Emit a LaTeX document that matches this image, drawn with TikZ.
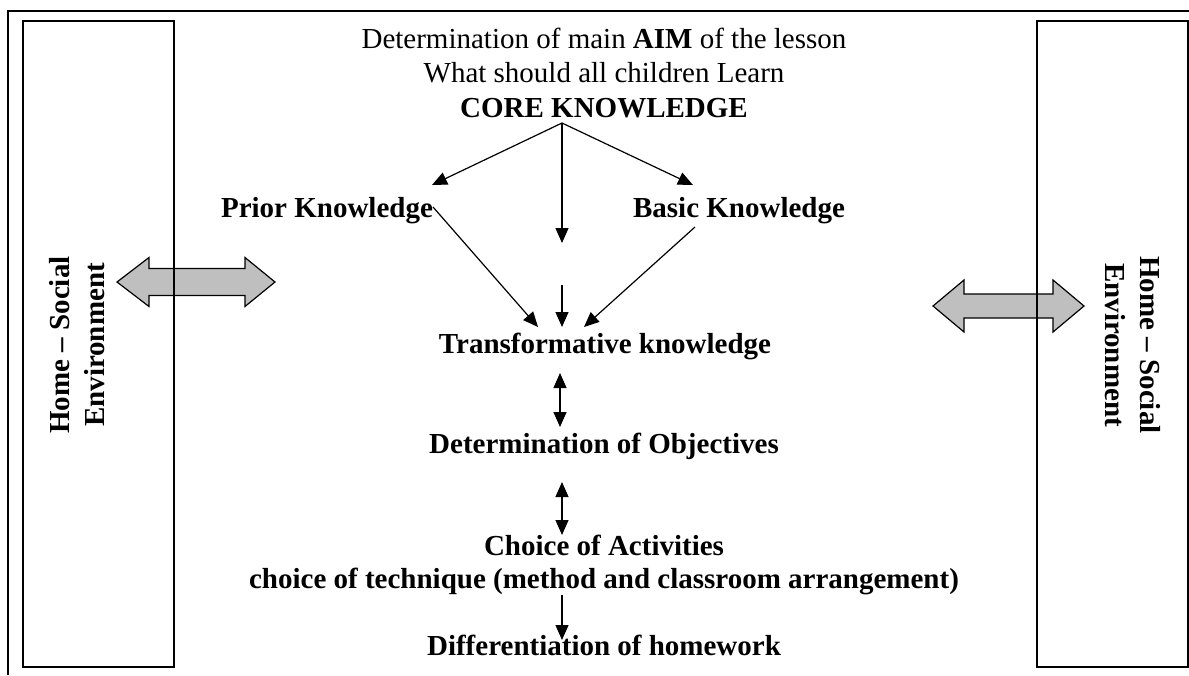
\documentclass[tikz,border=0pt]{standalone}
\usepackage{fontspec}
\setmainfont{Liberation Serif}
\usetikzlibrary{arrows.meta}
\begin{document}
\begin{tikzpicture}[x=0.5pt,y=-0.5pt,
  txt/.style={anchor=base,inner sep=0pt,font=\fontsize{14.5}{17.25}\selectfont},
  btxt/.style={anchor=base,inner sep=0pt,font=\fontsize{14.5}{17.25}\selectfont\bfseries},
  conn/.style={line width=0.6pt,-{Triangle[length=7.5pt,width=6.5pt]}},
  dconn/.style={line width=0.6pt,{Triangle[length=7.5pt,width=6.5pt]}-{Triangle[length=7.5pt,width=6.5pt]}},
  sidebox/.style={draw,line width=0.65pt,inner sep=0pt,minimum width=75.5pt,minimum height=323pt},
  bigarrow/.style={draw,fill=black!25,line width=0.6pt,line join=miter},
  frame/.style={line width=0.8pt}]
\useasboundingbox (0,0) rectangle (1189,675);
% outer frame (open at right and bottom)
\draw[frame] (1189,11) -- (8,11) -- (8,675);

% big double arrows (drawn under the side boxes)
\draw[bigarrow] (117,282) -- (149,257.5) -- (149,268.5) -- (245,268.5) -- (245,257.5) -- (275,282)
  -- (245,306.5) -- (245,295.5) -- (149,295.5) -- (149,306.5) -- cycle;
\draw[bigarrow] (933,306) -- (964,280) -- (964,294) -- (1053,294) -- (1053,280) -- (1084,306)
  -- (1053,332) -- (1053,318) -- (964,318) -- (964,332) -- cycle;

% side boxes
\node[sidebox] (lbox) at (98.5,344) {};
\node[sidebox] (rbox) at (1112.5,344) {};
\node[btxt,anchor=center,rotate=90,align=center] (ltext) at (77,345) {Home – Social\\Environment};
\node[btxt,anchor=center,rotate=-90,align=center] (rtext) at (1133,345) {Home – Social\\Environment};

% central texts
\node[txt] (aim1) at (604,48) {Determination of main \textbf{AIM} of the lesson};
\node[txt] (aim2) at (604,82) {What should all children Learn};
\node[btxt] (core) at (604,117) {CORE KNOWLEDGE};
\node[btxt] (prior) at (327,217) {Prior Knowledge};
\node[btxt] (basic) at (739,217) {Basic Knowledge};
\node[btxt] (trans) at (605,353) {Transformative knowledge};
\node[btxt] (obj) at (604,453) {Determination of Objectives};
\node[btxt] (act) at (604,555) {Choice of Activities};
\node[btxt] (tech) at (604,588) {choice of technique (method and classroom arrangement)};
\node[btxt] (diff) at (604,655) {Differentiation of homework};

% connector end points
\coordinate (apex) at (562,123);
\coordinate (priorT) at (432,185);
\coordinate (basicT) at (693,185);
\coordinate (midT) at (562,243);
\coordinate (priorS) at (433,207);
\coordinate (basicS) at (695,227);
\coordinate (midS) at (562,285);
\coordinate (transL) at (538,327);
\coordinate (transM) at (562,327);
\coordinate (transR) at (584,327);
\coordinate (tobA) at (560,373);
\coordinate (tobB) at (560,427);
\coordinate (oacA) at (562,482);
\coordinate (oacB) at (562,535);
\coordinate (adA) at (562,595);
\coordinate (adB) at (562,640);

\draw[conn] (apex) -- (priorT);
\draw[conn] (apex) -- (basicT);
\draw[conn] (apex) -- (midT);
\draw[conn] (priorS) -- (transL);
\draw[conn] (basicS) -- (transR);
\draw[conn] (midS) -- (transM);
\draw[dconn] (tobA) -- (tobB);
\draw[dconn] (oacA) -- (oacB);
\draw[conn] (adA) -- (adB);
\end{tikzpicture}
\end{document}
